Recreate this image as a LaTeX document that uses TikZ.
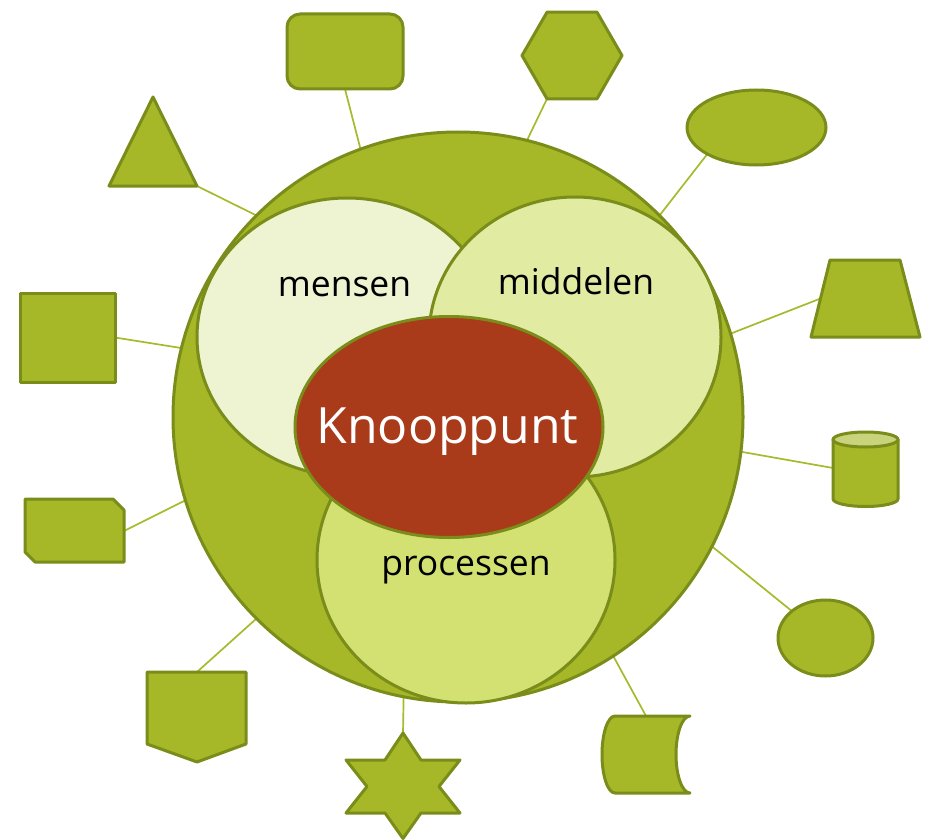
\documentclass[tikz,border=0pt]{standalone}
\usepackage{fontspec}
\setmainfont{Open Sans}
\usetikzlibrary{shapes.geometric}
\pgfdeclarelayer{bg}
\pgfsetlayers{bg,main}
\definecolor{leaf}{RGB}{166,183,40}
\definecolor{edgegreen}{RGB}{122,140,25}
\definecolor{linkgreen}{RGB}{166,186,44}
\definecolor{mensfill}{RGB}{238,243,209}
\definecolor{midfill}{RGB}{225,235,162}
\definecolor{procfill}{RGB}{211,225,114}
\definecolor{knoopred}{RGB}{169,58,26}
\definecolor{cyltop}{RGB}{201,211,123}
\begin{document}
\begin{tikzpicture}[x=1pt,y=-1pt,
  shapest/.style={fill=leaf, draw=edgegreen, line width=3pt, line join=round, inner sep=0pt, outer sep=0pt},
  blob/.style={ellipse, draw=edgegreen, line width=3pt, inner sep=0pt, outer sep=0pt},
  link/.style={draw=linkgreen, line width=1.7pt},
  lbl/.style={anchor=base, inner sep=0pt, font=\fontsize{35.5}{40}\selectfont, text=black}]
\useasboundingbox (0,0) rectangle (926,840);

% big circle and inner ellipses
\node[circle, minimum size=570pt, fill=leaf, draw=edgegreen, line width=3pt, inner sep=0pt, outer sep=0pt] (big) at (458,417) {};
\node[blob, fill=mensfill, minimum width=300pt, minimum height=278pt] (mens) at (347,337) {};
\node[blob, fill=midfill, minimum width=292pt, minimum height=280pt] (mid) at (575,337) {};
\node[blob, fill=procfill, minimum width=298pt, minimum height=286pt] (proc) at (466,560) {};
\node[blob, fill=knoopred, minimum width=308pt, minimum height=221pt] (knoop) at (449,427) {};

\node[lbl] (tmens) at (344.5,296) {mensen};
\node[lbl] (tmid) at (576,294) {middelen};
\node[lbl] (tproc) at (466,575) {processen};
\node[lbl, text=white, font=\fontsize{50}{56}\selectfont] (tknoop) at (447.5,443) {Knooppunt};

% outer shapes
\node[shapest, rectangle, rounded corners=13pt, minimum width=116pt, minimum height=75pt] (rr) at (345,51.5) {};
\node[shapest, rectangle, minimum width=95pt, minimum height=89pt] (sq) at (67.5,337.5) {};
\node[shapest, regular polygon, regular polygon sides=6, minimum size=100pt] (hex) at (572,55.5) {};
\node[shapest, ellipse, minimum width=139pt, minimum height=75pt] (ov) at (756.5,127.5) {};
\node[shapest, ellipse, minimum width=95pt, minimum height=76pt] (rd) at (825.5,638) {};

\coordinate (triR) at (197,186);
\draw[shapest] (153,97) -- (triR) -- (109,186) -- cycle;

\coordinate (snipR) at (124,531);
\draw[shapest] (25,499) -- (113,499) -- (124,510) -- (124,562) -- (35,562) -- (25,552) -- cycle;

\coordinate (pentT) at (197,672);
\draw[shapest] (147,672) -- (246,672) -- (246,744) -- (197,762) -- (147,744) -- cycle;

\coordinate (starT) at (403,733);
\draw[shapest] (starT) -- (421,760) -- (460,760) -- (439,786.5) -- (460,813) -- (421,813) -- (403,838.5) -- (385,813) -- (346,813) -- (367,786.5) -- (346,760) -- (385,760) -- cycle;

\coordinate (trapL) at (820.5,298.5);
\draw[shapest] (830,260) -- (900,260) -- (920,337) -- (811,337) -- cycle;

\coordinate (cylL) at (833,468);
\draw[shapest] (833,439.5) -- (833,499) .. controls (833,503.1) and (847.6,506.5) .. (865.5,506.5) .. controls (883.4,506.5) and (898,503.1) .. (898,499) -- (898,439.5) -- cycle;
\draw[shapest, fill=cyltop] (865.5,439.5) ellipse [x radius=32.5, y radius=7.5];

\coordinate (canT) at (646,716);
\draw[shapest] (615,716) -- (690,716) .. controls (682.3,716) and (676,733.2) .. (676,754.5) .. controls (676,775.8) and (682.3,793) .. (690,793) -- (615,793) .. controls (607.8,793) and (602,775.8) .. (602,754.5) .. controls (602,733.2) and (607.8,716) .. (615,716) -- cycle;

% connectors
\begin{pgfonlayer}{bg}
\draw[link] (rr.south) -- (big.110);
\draw[link] (triR) -- (big.135);
\draw[link] (sq.east) -- (big.166);
\draw[link] (snipR) -- (big.197);
\draw[link] (pentT) -- (big.225);
\draw[link] (starT) -- (big.259);
\draw[link] (hex.240) -- (big.76);
\draw[link] (ov.south west) -- (big.45);
\draw[link] (trapL) -- (big.17);
\draw[link] (cylL) -- (big.353);
\draw[link] (rd.north west) -- (big.333);
\draw[link] (canT) -- (big.303);
\end{pgfonlayer}
\end{tikzpicture}
\end{document}
